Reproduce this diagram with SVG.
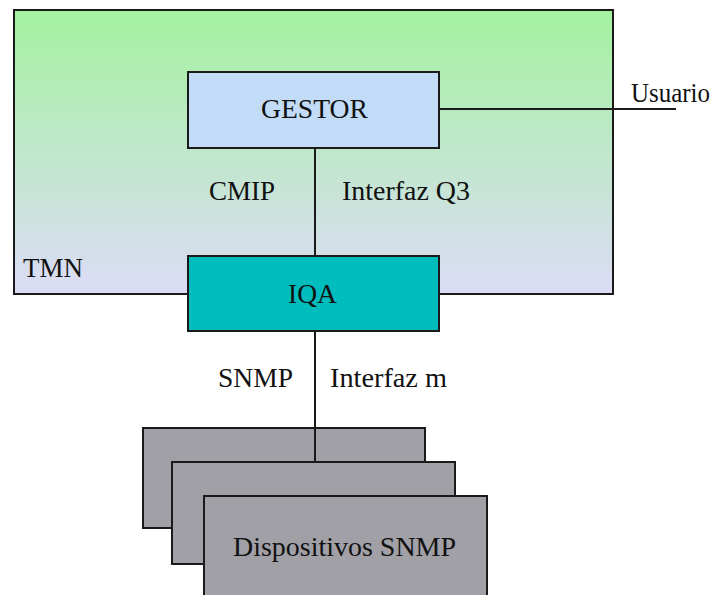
<svg xmlns="http://www.w3.org/2000/svg" width="717" height="595" viewBox="0 0 717 595">
<defs>
<linearGradient id="tmnGrad" x1="0" y1="0" x2="0" y2="1">
<stop offset="0" stop-color="#a4f2a0"/>
<stop offset="1" stop-color="#dcdcf6"/>
</linearGradient>
</defs>
<style>
.box{stroke:#1a1a1a;stroke-width:2}
.lbl{font-family:'Liberation Serif','DejaVu Serif','Times New Roman',serif;font-size:27px;fill:#111}
.conn{stroke:#1a1a1a;stroke-width:2;fill:none}
</style>
<rect width="717" height="595" fill="#ffffff"/>
<g id="tmn">
<rect class="box" x="14" y="10" width="599" height="284" fill="url(#tmnGrad)"/>
<text class="lbl" x="23" y="277" textLength="60" lengthAdjust="spacingAndGlyphs">TMN</text>
</g>
<g id="gestor">
<rect class="box" x="188" y="72" width="251" height="76" fill="#c2dcf8"/>
<text class="lbl" x="261" y="118" textLength="107" lengthAdjust="spacingAndGlyphs">GESTOR</text>
</g>
<g id="iqa">
<rect class="box" x="188" y="256" width="251" height="75" fill="#00bcbc"/>
<text class="lbl" x="288" y="303" textLength="49" lengthAdjust="spacingAndGlyphs">IQA</text>
</g>
<g id="labels">
<text class="lbl" x="631" y="102" textLength="79" lengthAdjust="spacingAndGlyphs">Usuario</text>
<text class="lbl" x="209" y="200" textLength="66" lengthAdjust="spacingAndGlyphs">CMIP</text>
<text class="lbl" x="342" y="200" textLength="128" lengthAdjust="spacingAndGlyphs">Interfaz Q3</text>
<text class="lbl" x="218" y="387" textLength="75" lengthAdjust="spacingAndGlyphs">SNMP</text>
<text class="lbl" x="330" y="387" textLength="117" lengthAdjust="spacingAndGlyphs">Interfaz m</text>
</g>
<g id="dispositivos">
<rect class="box" x="143" y="428" width="282" height="100" fill="#a0a0a6"/>
<rect class="box" x="172" y="462" width="283" height="102" fill="#a0a0a6"/>
<rect class="box" x="204" y="496" width="283" height="104" fill="#a0a0a6"/>
<text class="lbl" x="233" y="556" textLength="223" lengthAdjust="spacingAndGlyphs">Dispositivos SNMP</text>
</g>
<g id="connectors">
<line class="conn" x1="439" y1="109" x2="676" y2="109"/>
<line class="conn" x1="315" y1="148" x2="315" y2="256"/>
<line class="conn" x1="315" y1="331" x2="315" y2="462"/>
</g>
</svg>
